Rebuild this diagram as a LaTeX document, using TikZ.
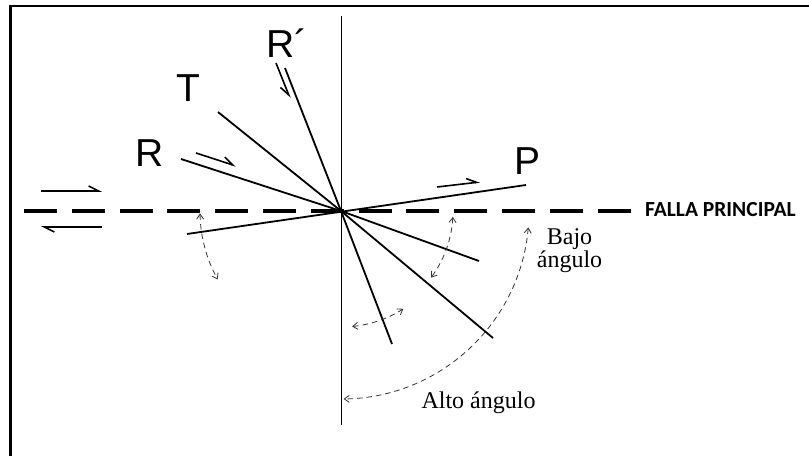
\documentclass[tikz,border=0pt]{standalone}
\usepackage{fontspec}
\setmainfont{Liberation Serif}
\newfontfamily\lblfont{Liberation Sans}
\newfontfamily\fallafont{Carlito}
\usetikzlibrary{arrows.meta}
\begin{document}
\begin{tikzpicture}[x=1pt,y=1pt,
  fault/.style={line width=1.8pt,black},
  slip/.style={line width=1.6pt,black,-{Straight Barb[harpoon,length=10pt,width=10pt,line width=1.6pt]}},
  slipswap/.style={line width=1.6pt,black,-{Straight Barb[harpoon,swap,length=10pt,width=10pt,line width=1.6pt]}},
  angarc/.style={line width=0.8pt,black!80,dash pattern=on 5.5pt off 4pt,{Straight Barb[length=5pt,width=7pt]}-{Straight Barb[length=5pt,width=7pt]}},
  lbl/.style={font=\lblfont\fontsize{39}{39}\selectfont,inner sep=0pt},
  serif/.style={font=\fontsize{24}{24}\selectfont,inner sep=0pt}]
\useasboundingbox (0,0) rectangle (809,456);
% frame
\draw[line width=2.5pt] (809,450) -- (10.5,450) -- (10.5,0);
% center
\coordinate (O) at (341,245);
% vertical reference line
\coordinate (vt) at (341,440);
\coordinate (vb) at (341,31);
\draw[line width=1pt] (vt) -- (vb);
% main fault
\coordinate (fl) at (24,245);
\coordinate (fr) at (631,245);
\draw[line width=3.4pt,dash pattern=on 33pt off 14.8pt] (fl) -- (fr);
\node[anchor=base west,inner sep=0pt,font=\fallafont\bfseries\fontsize{21.5}{22}\selectfont] (falla) at (645,240) {FALLA PRINCIPAL};
% secondary fractures
\coordinate (Rp) at (285,388);
\coordinate (T) at (218,344);
\coordinate (R) at (181,297);
\coordinate (Pa) at (187,222);
\coordinate (Pb) at (526,271);
\coordinate (L1) at (479,195);
\coordinate (L2) at (493,118);
\coordinate (L3) at (392,112);
\draw[fault] (Rp) -- (O);
\draw[fault] (T) -- (O);
\draw[fault] (R) -- (O);
\draw[fault] (Pa) -- (Pb);
\draw[fault] (O) -- (L1);
\draw[fault] (O) -- (L2);
\draw[fault] (O) -- (L3);
% slip arrows
\coordinate (a1s) at (276,393); \coordinate (a1e) at (290,358);
\coordinate (a2s) at (196,303); \coordinate (a2e) at (236,290);
\coordinate (a3s) at (437,269); \coordinate (a3e) at (480,274);
\coordinate (a4s) at (41,265);  \coordinate (a4e) at (102,265);
\coordinate (a5s) at (102,229); \coordinate (a5e) at (41,229);
\draw[slipswap] (a1s) -- (a1e);
\draw[slip] (a2s) -- (a2e);
\draw[slip] (a3s) -- (a3e);
\draw[slip,line width=2.4pt] (a4s) -- (a4e);
\draw[slip,line width=2.4pt] (a5s) -- (a5e);
% labels
\node[lbl,anchor=base west] (lRp) at (266,398) {R´};
\node[lbl,anchor=base] (lT) at (188.5,354) {T};
\node[lbl,anchor=base] (lR) at (150,289) {R};
\node[lbl,anchor=base] (lP) at (528,281) {P};
% angle arcs
\draw[angarc] (O) ++(181:141) arc[start angle=181,end angle=209,radius=141];
\draw[angarc] (O) ++(-3:112) arc[start angle=-3,end angle=-36.5,radius=112];
\draw[angarc] (O) ++(-84.5:116) arc[start angle=-84.5,end angle=-57.5,radius=116];
\draw[angarc] (O) ++(-5:188) arc[start angle=-5,end angle=-89.2,radius=188];
% texts
\node[serif,align=center,anchor=base] (bajo) at (569.5,189) {Bajo\\[-1pt]ángulo};
\node[serif,anchor=base] (alto) at (478.5,48) {Alto ángulo};
\end{tikzpicture}
\end{document}
